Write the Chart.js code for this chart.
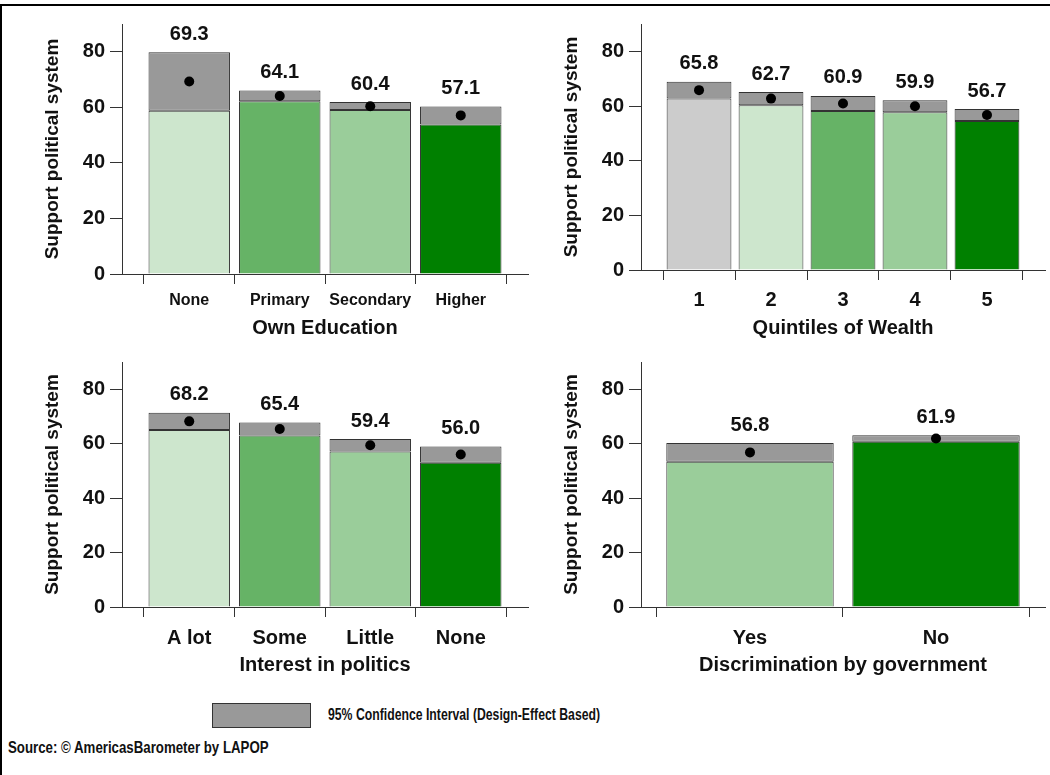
<!DOCTYPE html>
<html>
<head>
<meta charset="utf-8">
<script src="https://cdn.jsdelivr.net/npm/chart.js@4.4.0/dist/chart.umd.min.js"></script>
<style>
  body { margin: 0; background: #fff; width: 1050px; height: 775px; overflow: hidden; position: relative;
         font-family: 'Liberation Sans', Arial, sans-serif; }
  .frame { position: absolute; left: 0; top: 4px; width: 1060px; height: 800px;
           border-left: 2px solid #000; border-top: 2px solid #000; box-sizing: border-box; }
  canvas { position: absolute; }
  .legend-box { position: absolute; left: 212px; top: 703px; width: 97px; height: 23px;
                background: #999999; border: 1px solid #333; }
  .legend-text, .source { position: absolute; font: bold 17px 'Liberation Sans', Arial, sans-serif; color: #111;
                          white-space: nowrap; transform-origin: left center; }
  .legend-text { left: 328px; top: 705px; transform: scaleX(0.72); }
  .source { left: 8px; top: 738px; transform: scaleX(0.78); }
</style>
</head>
<body>
<div class="frame"></div>
<canvas id="c1" width="535" height="345" style="left:0;top:0"></canvas>
<canvas id="c2" width="515" height="345" style="left:535px;top:0"></canvas>
<canvas id="c3" width="535" height="355" style="left:0;top:345px"></canvas>
<canvas id="c4" width="515" height="355" style="left:535px;top:345px"></canvas>
<div class="legend-box"></div>
<div class="legend-text">95% Confidence Interval (Design-Effect Based)</div>
<div class="source">Source: © AmericasBarometer by LAPOP</div>

<script>
const lightGreen = '#cde6cd';
const midGreen = '#66b366';
const paleGreen = '#9acd9a';
const darkGreen = '#008000';
const lightGray = '#cccccc';
const ciGray = '#999999';

// Own education
const eduLabels = ['None', 'Primary', 'Secondary', 'Higher'];
const eduMean = [69.3, 64.1, 60.4, 57.1];
const eduLow = [58.8, 62.2, 59.0, 53.8];
const eduHigh = [79.8, 66.1, 61.9, 60.3];
const eduColors = [lightGreen, midGreen, paleGreen, darkGreen];

// Quintiles of wealth
const wealthLabels = ['1', '2', '3', '4', '5'];
const wealthMean = [65.8, 62.7, 60.9, 59.9, 56.7];
const wealthLow = [62.7, 60.3, 58.2, 57.7, 54.5];
const wealthHigh = [68.9, 65.1, 63.7, 62.1, 58.9];
const wealthColors = [lightGray, lightGreen, midGreen, paleGreen, darkGreen];

// Interest in politics
const interestLabels = ['A lot', 'Some', 'Little', 'None'];
const interestMean = [68.2, 65.4, 59.4, 56.0];
const interestLow = [65.0, 63.0, 57.1, 53.0];
const interestHigh = [71.4, 67.8, 61.7, 59.0];
const interestColors = [lightGreen, midGreen, paleGreen, darkGreen];

// Discrimination by government
const discLabels = ['Yes', 'No'];
const discMean = [56.8, 61.9];
const discLow = [53.4, 60.7];
const discHigh = [60.2, 63.1];
const discColors = [paleGreen, darkGreen];

const yTicks = [0, 20, 40, 60, 80];

const FONT = "'Liberation Sans', Arial, sans-serif";
const ink = '#111';
const lineCol = '#333';

const valueLabels = {
  id: 'valueLabels',
  afterDatasetsDraw(chart) {
    const { ctx, scales: { x, y } } = chart;
    const pts = chart.data.datasets[0].data;
    const ci = chart.data.datasets[2].data;
    ctx.save();
    ctx.font = 'bold 20px ' + FONT;
    ctx.fillStyle = ink;
    ctx.textAlign = 'center';
    ctx.textBaseline = 'middle';
    pts.forEach((p, i) => {
      ctx.fillText(p.y.toFixed(1), x.getPixelForValue(p.x), y.getPixelForValue(ci[i][1]) - 18);
    });
    ctx.restore();
  }
};

function makePanel(id, labels, mean, low, high, colors, title, lay) {
  const n = labels.length;
  const idx = labels.map((_, i) => i);
  new Chart(document.getElementById(id), {
    type: 'bar',
    data: {
      labels: idx,
      datasets: [
        {
          type: 'scatter',
          data: mean.map((m, i) => ({ x: i, y: m })),
          backgroundColor: '#000',
          borderWidth: 0,
          pointRadius: 5,
          order: 0
        },
        {
          data: low.map(v => [0, v]),
          backgroundColor: colors,
          borderColor: lineCol,
          borderWidth: 1,
          borderSkipped: 'start',
          grouped: false,
          barPercentage: 0.9,
          categoryPercentage: 1,
          order: 1
        },
        {
          data: low.map((v, i) => [v, high[i]]),
          backgroundColor: ciGray,
          borderColor: lineCol,
          borderWidth: 1,
          borderSkipped: false,
          grouped: false,
          barPercentage: 0.9,
          categoryPercentage: 1,
          order: 1
        }
      ]
    },
    options: {
      responsive: false,
      animation: false,
      layout: { padding: lay.padding },
      plugins: { legend: { display: false }, tooltip: { enabled: false } },
      scales: {
        x: {
          type: 'linear',
          offset: false,
          min: -0.5 - lay.edge,
          max: n - 0.5 + lay.edge,
          afterFit: s => { s.height = lay.xHeight; },
          grid: { drawOnChartArea: false, drawTicks: true, tickLength: 10, color: lineCol },
          border: { display: true, color: lineCol, width: 1 },
          ticks: {
            stepSize: 1,
            includeBounds: false,
            autoSkip: false,
            maxRotation: 0,
            padding: lay.tickPad,
            color: ink,
            font: { family: FONT, weight: 'bold', size: lay.tickSize },
            callback: v => labels[v]
          },
          title: {
            display: true,
            text: title,
            color: ink,
            font: { family: FONT, weight: 'bold', size: 20 },
            padding: { top: 0, bottom: lay.titlePad }
          }
        },
        y: {
          min: 0,
          max: 90,
          afterFit: s => { s.width = 92; },
          afterBuildTicks: s => { s.ticks = yTicks.map(v => ({ value: v })); },
          grid: { drawOnChartArea: false, drawTicks: true, tickLength: 12, color: lineCol },
          border: { display: true, color: lineCol, width: 1 },
          ticks: {
            padding: 5,
            color: ink,
            font: { family: FONT, weight: 'bold', size: 20 }
          },
          title: {
            display: true,
            text: 'Support political system',
            color: ink,
            font: { family: FONT, weight: 'bold', size: 19 },
            padding: { top: 11, bottom: 0 }
          }
        }
      }
    },
    plugins: [valueLabels]
  });
}

makePanel('c1', eduLabels, eduMean, eduLow, eduHigh, eduColors, 'Own Education',
  { padding: { left: 30, right: 7, top: 24, bottom: 4 }, xHeight: 67, edge: 0.243, tickPad: 7, tickSize: 16, titlePad: 1 });
makePanel('c2', wealthLabels, wealthMean, wealthLow, wealthHigh, wealthColors, 'Quintiles of Wealth',
  { padding: { left: 14, right: 5, top: 24, bottom: 3 }, xHeight: 72, edge: 0.306, tickPad: 8, tickSize: 20, titlePad: 2 });
makePanel('c3', interestLabels, interestMean, interestLow, interestHigh, interestColors, 'Interest in politics',
  { padding: { left: 30, right: 7, top: 16, bottom: 21 }, xHeight: 72, edge: 0.243, tickPad: 9, tickSize: 20, titlePad: 2 });
makePanel('c4', discLabels, discMean, discLow, discHigh, discColors, 'Discrimination by government',
  { padding: { left: 14, right: 5, top: 16, bottom: 21 }, xHeight: 72, edge: 0.086, tickPad: 9, tickSize: 20, titlePad: 2 });
</script>
</body>
</html>
